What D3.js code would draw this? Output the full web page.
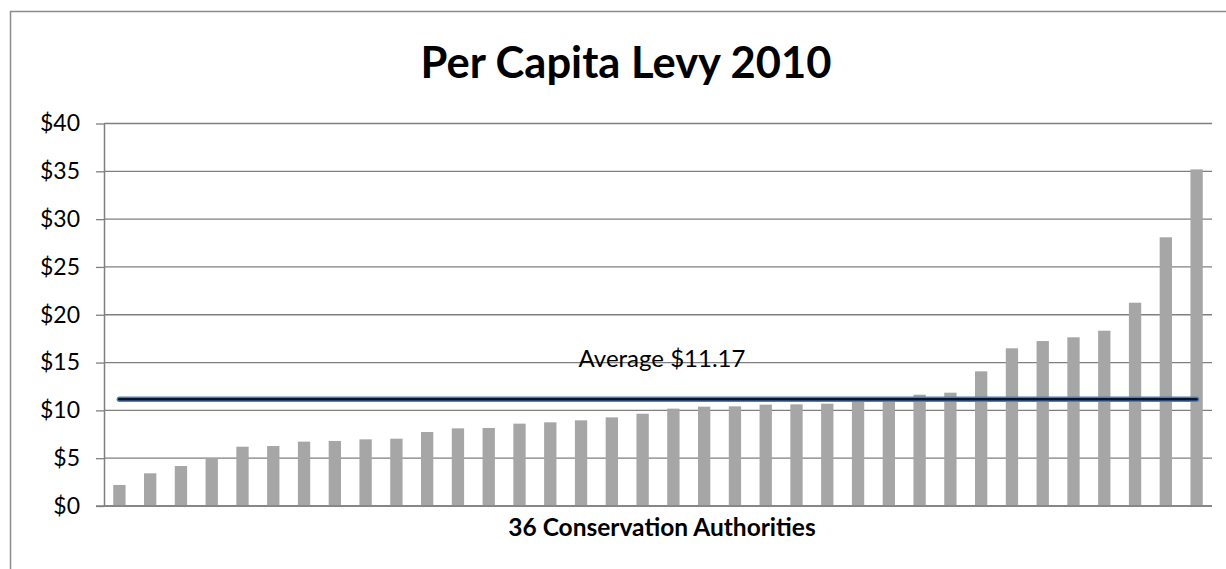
<!DOCTYPE html>
<html>
<head>
<meta charset="utf-8">
<script src="https://cdn.jsdelivr.net/npm/d3@7"></script>
<style>
  body { margin: 0; background: #fff; }
  text { font-family: Lato, "Open Sans", sans-serif; fill: #000; }
</style>
</head>
<body>
<svg id="chart"></svg>
<script>
// values, sorted low to high
var levyValues = [2.2, 3.42, 4.18, 4.98, 6.2, 6.27, 6.73, 6.8, 6.97, 7.04,
	7.74, 8.12, 8.16, 8.61, 8.75, 8.96, 9.27, 9.65, 10.18, 10.39,
	10.42, 10.6, 10.63, 10.7, 11.0, 11.1, 11.64, 11.85, 14.08, 16.49,
	17.25, 17.64, 18.33, 21.26, 28.1, 35.2];
var authorities = levyValues.map(function(d, i){ return "CA" + (i + 1); });
var yTicks = [0, 5, 10, 15, 20, 25, 30, 35, 40];
var averageLevy = 11.17;

var chartTitle = "Per Capita Levy 2010",
	xTitle = "36 Conservation Authorities",
	averageLabel = "Average $11.17";

var W = 1226, H = 569;
var margin = { top: 123.5, right: 14, bottom: 63, left: 104 },
	width = W - margin.left - margin.right,
	height = H - margin.top - margin.bottom;

var svg = d3.select('#chart')
	.attr('width', W)
	.attr('height', H);

// chart area border (right/bottom edges run off the picture)
svg.append('rect')
	.attr('x', 10.5).attr('y', 11.5)
	.attr('width', 1240).attr('height', 620)
	.attr('fill', 'none')
	.attr('stroke', '#8c8c8c')
	.attr('stroke-width', 1.5);

svg.append('text')
	.attr('x', 626).attr('y', 78)
	.attr('text-anchor', 'middle')
	.style('font-size', '43.5px')
	.style('font-weight', 'bold')
	.text(chartTitle);

var g = svg.append('g')
	.attr('transform', 'translate(' + margin.left + ',' + margin.top + ')');

var x = d3.scaleBand()
	.domain(authorities)
	.range([0, width])
	.paddingInner(0.6)
	.paddingOuter(0.3);

var y = d3.scaleLinear()
	.domain([0, 40])
	.range([height, 0]);

// gridlines
g.append('g')
	.selectAll('line')
	.data(yTicks)
	.enter().append('line')
	.attr('x1', 0).attr('x2', width)
	.attr('y1', function(d){ return y(d); })
	.attr('y2', function(d){ return y(d); })
	.attr('stroke', '#7f7f7f')
	.attr('stroke-width', 1.3);

var yAxis = d3.axisLeft(y)
	.tickValues(yTicks)
	.tickSize(8)
	.tickSizeOuter(0)
	.tickPadding(16)
	.tickFormat(function(d){ return '$' + d; });

var yAxisG = g.append('g').call(yAxis);
yAxisG.select('.domain').attr('stroke', '#7f7f7f').attr('stroke-width', 1.5);
yAxisG.selectAll('.tick line').attr('stroke', '#7f7f7f').attr('stroke-width', 1.3);
yAxisG.selectAll('.tick text')
	.style('font-family', 'Lato, sans-serif')
	.style('font-size', '23px')
	.attr('fill', '#000');

g.selectAll('.bar')
	.data(levyValues)
	.enter().append('rect')
	.attr('class', 'bar')
	.attr('x', function(d, i){ return x(authorities[i]); })
	.attr('y', function(d){ return y(d); })
	.attr('width', x.bandwidth())
	.attr('height', function(d){ return height - y(d); })
	.attr('fill', '#a6a6a6');

// bottom axis line drawn over the bars
g.append('line')
	.attr('x1', -8).attr('x2', width)
	.attr('y1', y(0)).attr('y2', y(0))
	.attr('stroke', '#7f7f7f')
	.attr('stroke-width', 1.5);

// average line: blue outline with dark core
var avgX1 = x(authorities[0]) + x.bandwidth()/2,
	avgX2 = x(authorities[authorities.length - 1]) + x.bandwidth()/2;

g.append('line')
	.attr('x1', avgX1).attr('x2', avgX2)
	.attr('y1', y(averageLevy)).attr('y2', y(averageLevy))
	.attr('stroke', '#4f7fbd')
	.attr('stroke-width', 5.5)
	.attr('stroke-linecap', 'round');
g.append('line')
	.attr('x1', avgX1).attr('x2', avgX2)
	.attr('y1', y(averageLevy)).attr('y2', y(averageLevy))
	.attr('stroke', '#0b1526')
	.attr('stroke-width', 2.6)
	.attr('stroke-linecap', 'round');

g.append('text')
	.attr('x', width/2 + 4)
	.attr('y', y(averageLevy) - 32)
	.attr('text-anchor', 'middle')
	.style('font-size', '24px')
	.text(averageLabel);

g.append('text')
	.attr('x', width/2 + 4)
	.attr('y', height + 30)
	.attr('text-anchor', 'middle')
	.style('font-size', '24.5px')
	.style('font-weight', 'bold')
	.text(xTitle);
</script>
</body>
</html>
